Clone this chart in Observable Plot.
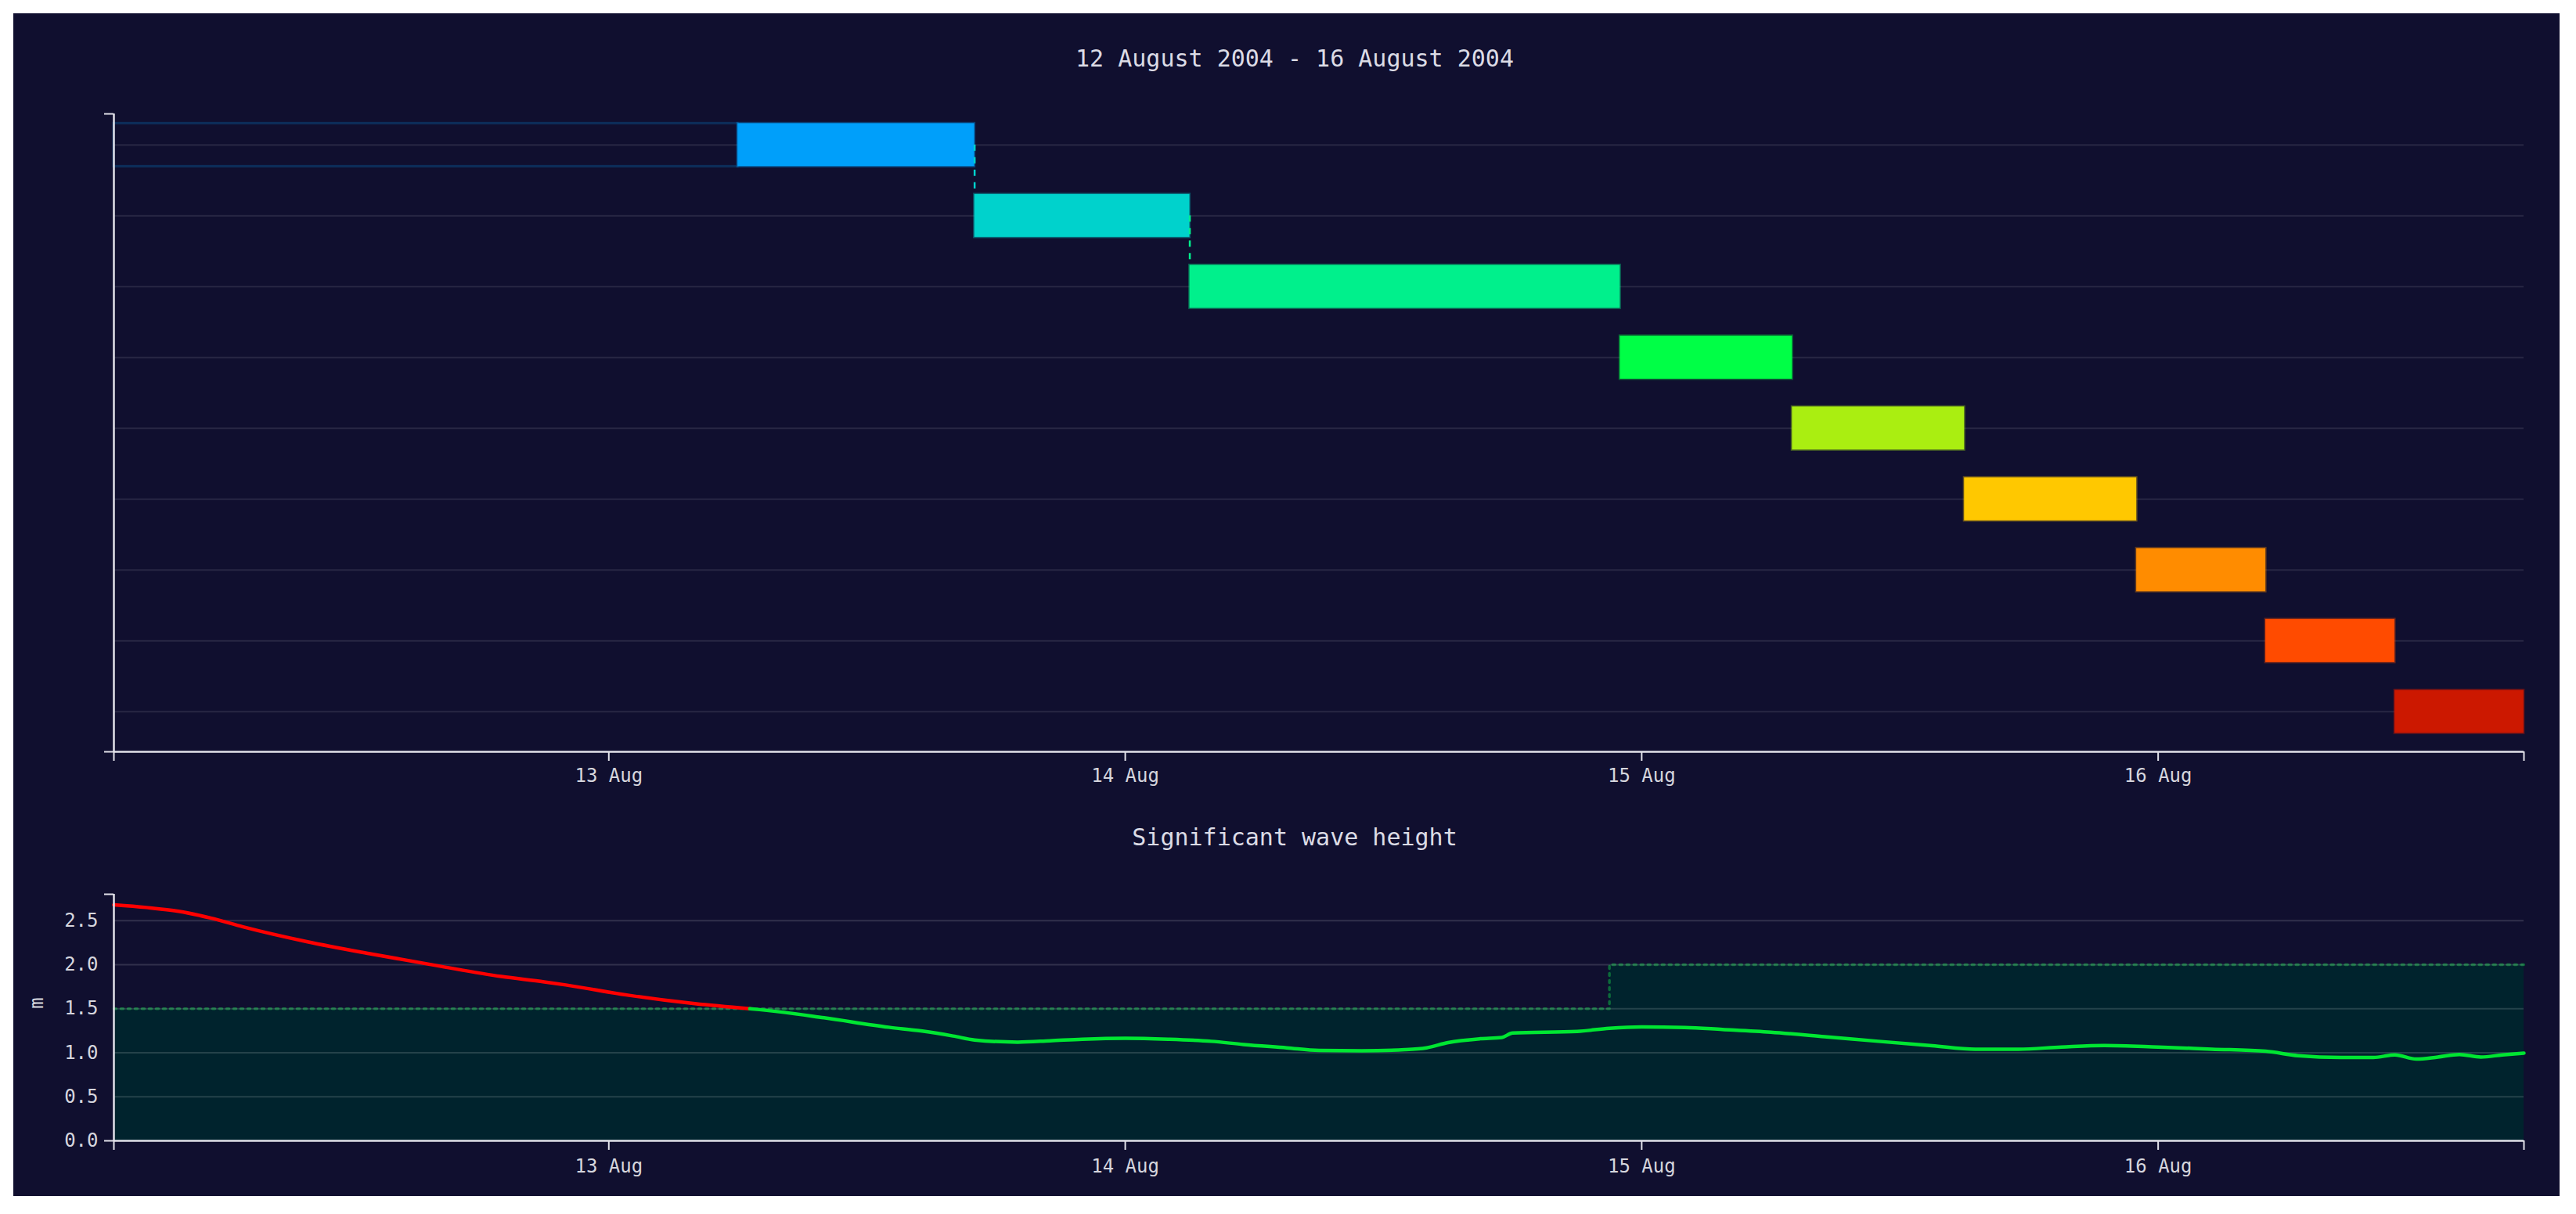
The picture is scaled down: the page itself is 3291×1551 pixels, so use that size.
<!DOCTYPE html>
<html><head><meta charset="utf-8">
<script src="https://cdn.jsdelivr.net/npm/d3@7"></script>
<script src="https://cdn.jsdelivr.net/npm/@observablehq/plot@0.6"></script>
<style>
html,body{margin:0;padding:0;background:#fff;}
#panel{position:absolute;left:17px;top:17px;width:3253px;height:1511px;background:#100f2f;overflow:hidden;}
.ttl{position:absolute;left:0;width:3274px;text-align:center;font-family:"DejaVu Sans Mono",monospace;font-size:30px;line-height:30px;color:#dcdce6;white-space:pre;}
.chart{position:absolute;left:0;}
</style></head><body>
<div id="panel">
  <div class="ttl" id="t1" style="top:43px;"></div>
  <div class="chart" id="c1" style="top:100px;"></div>
  <div class="ttl" id="t2" style="top:1038px;"></div>
  <div class="chart" id="c2" style="top:1100px;"></div>
</div>
<script>
// ---------- data ----------
const titleText = "12 August 2004 - 16 August 2004";
const subtitleText = "Significant wave height";
const yUnit = "m";

const timeStart = "2004-08-12T01:00Z";
const timeEnd = "2004-08-16T17:00Z";
const dayTicks = ["2004-08-13T00:00Z", "2004-08-14T00:00Z", "2004-08-15T00:00Z", "2004-08-16T00:00Z"];

// gantt bars (one per row, top to bottom)
const barStarts = ["2004-08-13T06:00Z","2004-08-13T17:00Z","2004-08-14T03:00Z","2004-08-14T23:00Z","2004-08-15T07:00Z","2004-08-15T15:00Z","2004-08-15T23:00Z","2004-08-16T05:00Z","2004-08-16T11:00Z"];
const barEnds   = ["2004-08-13T17:00Z","2004-08-14T03:00Z","2004-08-14T23:00Z","2004-08-15T07:00Z","2004-08-15T15:00Z","2004-08-15T23:00Z","2004-08-16T05:00Z","2004-08-16T11:00Z","2004-08-16T17:00Z"];
const barColors = ["#009ffa","#00d2cc","#00f08c","#00ff46","#aaee11","#ffc800","#ff8c00","#ff4b00","#cc1800"];
// dependency links drawn as dashed connectors (from row -> to row)
const linkFrom = [0, 1];
const linkTo = [1, 2];

// significant wave height series
const waveTimes = [
 "2004-08-12T01:00Z","2004-08-12T02:30Z","2004-08-12T04:00Z","2004-08-12T05:30Z","2004-08-12T07:00Z","2004-08-12T10:00Z",
 "2004-08-12T13:00Z","2004-08-12T16:00Z","2004-08-12T19:00Z","2004-08-12T21:00Z","2004-08-12T22:00Z","2004-08-13T01:00Z",
 "2004-08-13T04:00Z","2004-08-13T07:00Z","2004-08-13T10:00Z","2004-08-13T13:00Z","2004-08-13T14:30Z","2004-08-13T16:00Z",
 "2004-08-13T17:00Z","2004-08-13T19:00Z","2004-08-13T20:30Z","2004-08-13T22:00Z","2004-08-14T00:00Z","2004-08-14T02:00Z",
 "2004-08-14T04:00Z","2004-08-14T05:30Z","2004-08-14T07:30Z","2004-08-14T09:00Z","2004-08-14T11:00Z","2004-08-14T13:00Z",
 "2004-08-14T14:00Z","2004-08-14T15:00Z","2004-08-14T16:30Z","2004-08-14T17:30Z","2004-08-14T18:00Z","2004-08-14T21:00Z",
 "2004-08-14T22:30Z","2004-08-15T00:00Z","2004-08-15T02:00Z","2004-08-15T03:45Z","2004-08-15T06:00Z","2004-08-15T08:30Z",
 "2004-08-15T11:00Z","2004-08-15T13:30Z","2004-08-15T15:30Z","2004-08-15T17:30Z","2004-08-15T19:30Z","2004-08-15T21:30Z",
 "2004-08-16T00:00Z","2004-08-16T02:30Z","2004-08-16T05:00Z","2004-08-16T06:30Z","2004-08-16T08:30Z","2004-08-16T10:00Z",
 "2004-08-16T11:00Z","2004-08-16T12:00Z","2004-08-16T13:00Z","2004-08-16T14:00Z","2004-08-16T15:00Z","2004-08-16T16:00Z",
 "2004-08-16T17:00Z"];
const waveValues = [
 2.68,2.65,2.607,2.53,2.43,2.26,
 2.12,1.99,1.866,1.805,1.77,1.65,
 1.557,1.49,1.397,1.29,1.248,1.19,
 1.145,1.121,1.136,1.154,1.165,1.154,
 1.13,1.094,1.056,1.026,1.023,1.035,
 1.056,1.115,1.159,1.174,1.225,1.243,
 1.278,1.293,1.287,1.265,1.234,1.183,
 1.13,1.08,1.041,1.041,1.065,1.083,
 1.065,1.041,1.017,0.967,0.946,0.946,
 0.976,0.928,0.952,0.981,0.952,0.976,
 0.996];

// operating limit (threshold) steps
const thresholdTimes = ["2004-08-12T01:00Z","2004-08-14T22:30Z","2004-08-16T17:00Z"];
const thresholdValues = [1.5, 2.0, 2.0];

const yTicks = [0, 0.5, 1.0, 1.5, 2.0, 2.5];
const yMax = 2.8;

// ---------- derived tables ----------
const D = s => new Date(s);
const t0 = D(timeStart), t1 = D(timeEnd);
const fmt = d3.utcFormat("%-d %b");
const halfBar = 0.304;

const bars = barStarts.map((s, i) => ({row: i, start: D(s), end: D(barEnds[i]), color: barColors[i]}));
const links = linkFrom.map((f, i) => ({x: bars[f].end, from: f, to: linkTo[i], color: bars[linkTo[i]].color}));

const thr = thresholdTimes.map((t, i) => ({t: D(t), v: thresholdValues[i]}));
function thrAt(t) { let v = thr[0].v; for (const p of thr) if (t >= p.t) v = p.v; return v; }

const wave = waveTimes.map((t, i) => ({t: D(t), v: waveValues[i]}));
const segPts = [];
let seg = 0, cur = null;
wave.forEach((p, i) => {
  const above = p.v > thrAt(p.t);
  if (i === 0) { cur = above; segPts.push({...p, seg, above}); return; }
  if (above !== cur) {
    const q = wave[i - 1], th = thrAt(p.t);
    const f = (th - q.v) / (p.v - q.v);
    const tc = new Date(+q.t + f * (p.t - q.t));
    segPts.push({t: tc, v: th, seg, above: cur});
    seg++; cur = above;
    segPts.push({t: tc, v: th, seg, above});
  }
  segPts.push({...p, seg, above});
});

const axisColor = "#e2e2ea";
const style = {background: "transparent", color: "#d6d6de", fontFamily: "DejaVu Sans Mono, monospace", fontSize: "24px", overflow: "visible"};
const W = 3253, ML = 128, MR = 46;

document.getElementById("t1").textContent = titleText;
document.getElementById("t2").textContent = subtitleText;

const xTickVals = [t0, ...dayTicks.map(D), t1];
const xTickFmt = d => (+d === +t0 || +d === +t1) ? "" : fmt(d);

// ---------- top: gantt ----------
const yTop = -0.44, yBot = 8.565;
const gantt = Plot.plot({
  width: W, height: 920, marginLeft: ML, marginRight: MR, marginTop: 28, marginBottom: 77,
  style,
  x: {type: "utc", domain: [t0, t1], label: null},
  y: {domain: [yTop, yBot], reverse: true, label: null},
  color: {type: "identity"},
  marks: [
    Plot.gridY(d3.range(bars.length), {stroke: "#ffffff", strokeOpacity: 0.1, strokeWidth: 2}),
    Plot.rect([bars[0]], {x1: () => t0, x2: "start", y1: d => d.row - halfBar, y2: d => d.row + halfBar,
      fill: "none", stroke: "color", strokeOpacity: 0.22, strokeWidth: 3}),
    Plot.rect(bars, {x1: "start", x2: "end", y1: d => d.row - halfBar, y2: d => d.row + halfBar,
      fill: "color", stroke: "color", strokeOpacity: 0.35, strokeWidth: 3}),
    Plot.ruleX(links, {x: "x", y1: "from", y2: d => d.to - halfBar, stroke: "color", strokeWidth: 2.5, strokeDasharray: "8,8"}),
    Plot.ruleY([yBot], {stroke: axisColor, strokeWidth: 2.5}),
    Plot.ruleX([t0], {stroke: axisColor, strokeWidth: 2.5}),
    Plot.axisX({ticks: xTickVals, tickFormat: xTickFmt, label: null,
      tickSize: 12, tickPadding: 9, stroke: axisColor, strokeWidth: 2, fontSize: 24}),
    Plot.axisY({ticks: [yTop, yBot], tickFormat: () => "", tickSize: 12, stroke: axisColor, strokeWidth: 2, label: null})
  ]
});
document.getElementById("c1").appendChild(gantt);

// ---------- bottom: wave height ----------
const waveChart = Plot.plot({
  width: W, height: 411, marginLeft: ML, marginRight: MR, marginTop: 25, marginBottom: 71,
  style,
  x: {type: "utc", domain: [t0, t1], label: null},
  y: {domain: [0, yMax], label: null},
  color: {type: "identity"},
  marks: [
    Plot.areaY(thr, {x: "t", y: "v", curve: "step-after", fill: "#00232d"}),
    Plot.lineY(thr, {x: "t", y: "v", curve: "step-after", stroke: "#0c6a3a", strokeWidth: 3.5, strokeDasharray: "3,6"}),
    Plot.gridY(yTicks.slice(1), {stroke: "#ffffff", strokeOpacity: 0.14, strokeWidth: 2}),
    Plot.line(segPts, {x: "t", y: "v", z: "seg", stroke: d => d.above ? "#ff0000" : "#00e632", strokeWidth: 4.5, curve: "monotone-x"}),
    Plot.ruleY([0], {stroke: axisColor, strokeWidth: 2.5}),
    Plot.ruleX([t0], {stroke: axisColor, strokeWidth: 2.5}),
    Plot.axisX({ticks: xTickVals, tickFormat: xTickFmt, label: null,
      tickSize: 12, tickPadding: 11, stroke: axisColor, strokeWidth: 2, fontSize: 24}),
    Plot.axisY({ticks: [0, yMax], tickFormat: () => "", tickSize: 12, stroke: axisColor, strokeWidth: 2, label: null}),
    Plot.axisY({ticks: yTicks, tickFormat: d3.format(".1f"), tickSize: 0, tickPadding: 20, fontSize: 24, label: null}),
    Plot.text([yUnit], {text: d => d, y: () => 1.5, frameAnchor: "left", dx: -98, rotate: -90, fontSize: 24, fill: "#d6d6de"})
  ]
});
document.getElementById("c2").appendChild(waveChart);
</script>
</body></html>
